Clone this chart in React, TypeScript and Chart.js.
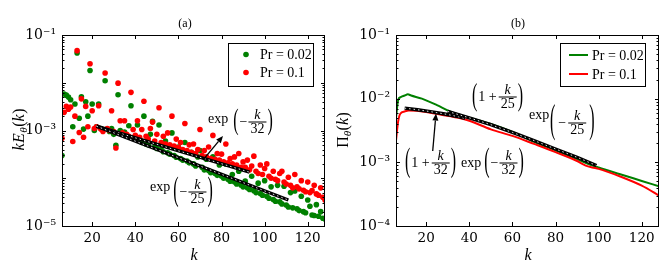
import React, { useEffect, useRef } from 'react';
import { Chart, registerables } from 'chart.js';

Chart.register(...registerables);

// ---------------- data ----------------
const K = [
  6, 7, 8, 9, 10, 11, 12, 13, 14, 15,
  16, 17, 18, 19, 20, 21, 22, 23, 24, 25,
  26, 27, 28, 29, 30, 31, 32, 33, 34, 35,
  36, 37, 38, 39, 40, 41, 42, 43, 44, 45,
  46, 47, 48, 49, 50, 51, 52, 53, 54, 55,
  56, 57, 58, 59, 60, 61, 62, 63, 64, 65,
  66, 67, 68, 69, 70, 71, 72, 73, 74, 75,
  76, 77, 78, 79, 80, 81, 82, 83, 84, 85,
  86, 87, 88, 89, 90, 91, 92, 93, 94, 95,
  96, 97, 98, 99, 100, 101, 102, 103, 104, 105,
  106, 107, 108, 109, 110, 111, 112, 113, 114, 115,
  116, 117, 118, 119, 120, 121, 122, 123, 124, 125,
  126, 127, 128,
];

// k E_theta(k), Pr = 0.02
const KE_PR002 = [
  3.0e-4, 5.8e-3, 5.5e-3, 5.0e-3, 4.4e-3, 1.2e-3, 3.6e-3, 4.2e-2, 1.8e-3, 5.1e-3,
  1.07e-3, 4.0e-3, 2.0e-3, 1.8e-2, 3.6e-3, 1.0e-3, 1.2e-3, 3.6e-3, 1.1e-3, 1.05e-3,
  1.1e-2, 1.07e-3, 9.5e-4, 1.1e-3, 8.3e-4, 4.9e-4, 5.6e-3, 1.0e-3, 8.3e-4, 9.3e-4,
  7.6e-4, 1.26e-3, 3.3e-3, 7.1e-4, 6.6e-4, 1.3e-3, 6.0e-4, 5.6e-4, 2.0e-3, 5.2e-4,
  5.0e-4, 8.3e-4, 1.55e-3, 4.5e-4, 4.2e-4, 1.3e-3, 4.0e-4, 3.6e-4, 6.0e-4, 3.4e-4,
  3.2e-4, 8.9e-4, 3.0e-4, 2.75e-4, 4.5e-4, 2.6e-4, 2.4e-4, 5.6e-4, 2.3e-4, 2.1e-4,
  3.5e-4, 2.0e-4, 1.8e-4, 2.8e-4, 3.8e-4, 1.7e-4, 1.5e-4, 2.5e-4, 1.45e-4, 1.3e-4,
  2.8e-4, 1.26e-4, 1.15e-4, 1.9e-4, 1.1e-4, 1.0e-4, 2.0e-4, 9.5e-5, 8.7e-5, 1.2e-4,
  8.3e-5, 7.6e-5, 1.4e-4, 7.2e-5, 6.6e-5, 8.7e-5, 6.3e-5, 5.8e-5, 1.1e-4, 5.5e-5,
  5.0e-5, 7.9e-5, 4.8e-5, 4.4e-5, 8.9e-5, 4.2e-5, 3.8e-5, 6.6e-5, 3.6e-5, 3.3e-5,
  7.1e-5, 3.2e-5, 2.9e-5, 6.8e-5, 2.75e-5, 2.5e-5, 5.0e-5, 2.4e-5, 5.4e-5, 2.3e-5,
  2.1e-5, 4.2e-5, 2.0e-5, 1.9e-5, 3.5e-5, 2.6e-5, 1.7e-5, 1.66e-5, 2.8e-5, 1.6e-5,
  2.0e-5, 1.45e-5, 1.4e-5,
];

// k E_theta(k), Pr = 0.1
const KE_PR01 = [
  6.9e-4, 2.4e-3, 3.2e-3, 2.8e-3, 3.1e-3, 5.9e-4, 2.0e-3, 4.7e-2, 9.1e-4, 4.6e-3,
  7.2e-4, 3.2e-3, 1.2e-3, 2.5e-2, 2.6e-3, 1.1e-3, 1.2e-3, 3.3e-3, 1.07e-3, 9.5e-4,
  1.6e-2, 1.1e-3, 1.0e-3, 2.6e-3, 9.5e-4, 4.3e-4, 9.8e-3, 1.6e-3, 8.9e-4, 1.6e-3,
  8.3e-4, 7.6e-4, 6.3e-3, 1.05e-3, 7.9e-4, 1.6e-3, 7.2e-4, 1.05e-3, 4.1e-3, 7.6e-4,
  6.6e-4, 1.1e-3, 1.5e-3, 6.0e-4, 8.3e-4, 3.0e-3, 5.6e-4, 7.6e-4, 5.2e-4, 8.9e-4,
  5.0e-4, 2.0e-3, 4.7e-4, 6.6e-4, 4.4e-4, 5.6e-4, 4.0e-4, 1.4e-3, 3.8e-4, 5.0e-4,
  3.5e-4, 5.2e-4, 3.3e-4, 4.0e-4, 1.05e-3, 3.0e-4, 3.8e-4, 2.8e-4, 4.5e-4, 2.6e-4,
  7.9e-4, 2.5e-4, 3.3e-4, 2.4e-4, 3.2e-4, 2.2e-4, 5.2e-4, 2.1e-4, 2.6e-4, 2.0e-4,
  2.8e-4, 1.9e-4, 3.3e-4, 1.7e-4, 2.2e-4, 1.7e-4, 2.4e-4, 1.5e-4, 1.8e-4, 2.9e-4,
  1.4e-4, 1.26e-4, 1.9e-4, 1.2e-4, 1.6e-4, 2.0e-4, 1.1e-4, 1.0e-4, 1.4e-4, 9.5e-5,
  8.9e-5, 1.26e-4, 1.4e-4, 8.3e-5, 7.6e-5, 1.05e-4, 7.1e-5, 6.3e-5, 1.2e-4, 6.6e-5,
  6.0e-5, 8.9e-5, 5.6e-5, 5.2e-5, 8.3e-5, 5.0e-5, 5.5e-5, 7.1e-5, 4.7e-5, 4.4e-5,
  6.3e-5, 4.0e-5, 3.5e-5,
];

// fit lines, panel (a)
const FIT32_K = [22, 93];
const FIT32_V = [1.23e-3, 1.34e-4];
const FIT25_K = [22, 111];
const FIT25_V = [1.23e-3, 3.5e-5];

// Pi_theta(k), panel (b)
const PI_K_PR002 = [6, 7, 8, 10, 11.5, 13, 18, 25, 31, 36, 40, 50, 60, 70, 80, 90, 95, 100, 110, 120, 128];
const PI_PR002 = [5.0e-3, 9.5e-3, 1.05e-2, 1.12e-2, 1.17e-2, 1.12e-2, 1.0e-2, 7.9e-3, 6.3e-3, 5.5e-3, 5.0e-3, 4.0e-3, 3.0e-3, 2.1e-3, 1.55e-3, 1.12e-3, 9.5e-4, 8.3e-4, 6.5e-4, 5.1e-4, 4.2e-4];
const PI_K_PR01 = [6, 7, 8, 10, 12, 20, 27, 35, 40, 50, 60, 70, 80, 90, 94, 97, 100, 110, 120, 128];
const PI_PR01 = [2.2e-3, 4.4e-3, 5.8e-3, 6.3e-3, 6.5e-3, 6.2e-3, 5.6e-3, 5.0e-3, 4.5e-3, 3.3e-3, 2.6e-3, 1.95e-3, 1.45e-3, 1.05e-3, 8.9e-4, 8.3e-4, 7.9e-4, 6.0e-4, 4.3e-4, 3.0e-4];

const PIFIT32_K = [10, 16, 22, 28, 34, 38];
const PIFIT32_V = [7.1e-3, 6.7e-3, 6.25e-3, 5.8e-3, 5.3e-3, 4.9e-3];
const PIFIT25_K = [30, 40, 50, 60, 70, 80, 90, 99];
const PIFIT25_V = [6.3e-3, 5.0e-3, 3.9e-3, 2.95e-3, 2.2e-3, 1.62e-3, 1.2e-3, 8.9e-4];

const X_TICKS = [20, 40, 60, 80, 100, 120];
const Y_TICKS_A = [1e-5, 1e-3, 1e-1];
const Y_LABELS_A = ['10⁻⁵', '10⁻³', '10⁻¹'];
const Y_TICKS_B = [1e-4, 1e-3, 1e-2, 1e-1];
const Y_LABELS_B = ['10⁻⁴', '10⁻³', '10⁻²', '10⁻¹'];
const SERIES_LABELS = ['Pr = 0.02', 'Pr = 0.1'];

// ---------------- style ----------------
const GREEN = '#008000';
const RED = '#ff0000';
const SERIF = '"Liberation Serif", "Times New Roman", serif';
const TICK_FAMILY = '"DejaVu Serif", serif';

const serif = (size: number, italic = false) => `${italic ? 'italic ' : ''}${size}px ${SERIF}`;
const pts = (xs: number[], ys: number[]) => xs.map((x, i) => ({ x, y: ys[i] }));

type Item =
  | { kind: 'text'; s: string; italic?: boolean; size?: number; dy?: number; gap?: number }
  | { kind: 'paren'; ch: string; h: number; gap?: number }
  | { kind: 'frac'; num: string; den: string; gap?: number };

function drawExpr(ctx: CanvasRenderingContext2D, x0: number, cy: number, items: Item[]) {
  let x = x0;
  ctx.save();
  ctx.fillStyle = '#000';
  ctx.textAlign = 'left';
  ctx.textBaseline = 'alphabetic';
  for (const it of items) {
    x += it.gap ?? 1;
    if (it.kind === 'text') {
      const size = it.size ?? 14;
      ctx.font = serif(size, it.italic);
      const w = ctx.measureText(it.s).width;
      ctx.fillText(it.s, x, cy + 0.3 * size + (it.dy ?? 0));
      x += w;
    } else if (it.kind === 'paren') {
      const s = 16;
      ctx.font = serif(s);
      const w = ctx.measureText(it.ch).width;
      ctx.save();
      ctx.translate(x, cy);
      ctx.scale(1, it.h / (0.91 * s));
      ctx.fillText(it.ch, 0, 0.24 * s);
      ctx.restore();
      x += w;
    } else {
      const s = 14;
      ctx.font = serif(s, true);
      const wn = ctx.measureText(it.num).width;
      ctx.font = serif(s);
      const wd = ctx.measureText(it.den).width;
      const w = Math.max(wn, wd) + 4;
      ctx.font = serif(s, true);
      ctx.fillText(it.num, x + (w - wn) / 2, cy - 3);
      ctx.font = serif(s);
      ctx.fillText(it.den, x + (w - wd) / 2, cy + 2 + 0.66 * s);
      ctx.fillRect(x, cy - 0.5, w, 1);
      x += w;
    }
  }
  ctx.restore();
}

type Run = { s: string; italic?: boolean; size?: number; dy?: number };
function drawRuns(ctx: CanvasRenderingContext2D, runs: Run[], cx: number, by: number) {
  let total = 0;
  const ws: number[] = [];
  for (const r of runs) {
    ctx.font = serif(r.size ?? 16, r.italic);
    const w = ctx.measureText(r.s).width;
    ws.push(w);
    total += w;
  }
  let x = cx - total / 2;
  ctx.textAlign = 'left';
  ctx.textBaseline = 'alphabetic';
  runs.forEach((r, i) => {
    ctx.font = serif(r.size ?? 16, r.italic);
    ctx.fillText(r.s, x, by + (r.dy ?? 0));
    x += ws[i] + (r.italic ? 0.5 : 0);
  });
}

function drawArrow(ctx: CanvasRenderingContext2D, x1: number, y1: number, x2: number, y2: number) {
  const ang = Math.atan2(y2 - y1, x2 - x1);
  const L = 7, W = 3;
  const bx = x2 - L * Math.cos(ang), by = y2 - L * Math.sin(ang);
  ctx.save();
  ctx.strokeStyle = '#000';
  ctx.fillStyle = '#000';
  ctx.lineWidth = 1.3;
  ctx.beginPath();
  ctx.moveTo(x1, y1);
  ctx.lineTo(bx, by);
  ctx.stroke();
  ctx.beginPath();
  ctx.moveTo(x2, y2);
  ctx.lineTo(bx + W * Math.sin(ang), by - W * Math.cos(ang));
  ctx.lineTo(bx - W * Math.sin(ang), by + W * Math.cos(ang));
  ctx.closePath();
  ctx.fill();
  ctx.restore();
}

type DecoCfg = {
  minExp: number;
  maxExp: number;
  title: string;
  titleX: number;
  yTitle: Run[];
  yTitleX: number;
  xTitleX: number;
  legendBox: [number, number, number, number];
  legendMarkerX: number;
  legendTextX: number;
  legendRows: number[];
  legendLine: boolean;
  extra: (ctx: CanvasRenderingContext2D) => void;
};

function makeDeco(cfg: DecoCfg) {
  return {
    id: 'deco',
    afterDraw(chart: any) {
      const ctx: CanvasRenderingContext2D = chart.ctx;
      const { left, right, top, bottom } = chart.chartArea;
      const xs = chart.scales.x;
      const ys = chart.scales.y;
      ctx.save();
      // frame
      ctx.strokeStyle = '#000';
      ctx.lineWidth = 1;
      ctx.strokeRect(Math.round(left) + 0.5, Math.round(top) + 0.5, Math.round(right - left) - 1, Math.round(bottom - top));
      // x ticks (inward, top and bottom)
      ctx.beginPath();
      for (const v of X_TICKS) {
        const px = Math.round(xs.getPixelForValue(v)) + 0.5;
        ctx.moveTo(px, bottom);
        ctx.lineTo(px, bottom - 4);
        ctx.moveTo(px, top);
        ctx.lineTo(px, top + 4);
      }
      // y ticks (log, inward, left and right)
      for (let e = cfg.minExp; e < cfg.maxExp; e++) {
        for (let m = 1; m <= 9; m++) {
          const v = m * Math.pow(10, e);
          const py = Math.round(ys.getPixelForValue(v)) + 0.5;
          const len = m === 1 ? 4 : 2.5;
          ctx.moveTo(left, py);
          ctx.lineTo(left + len, py);
          ctx.moveTo(right, py);
          ctx.lineTo(right - len, py);
        }
      }
      ctx.stroke();

      // legend
      const [bx, by, bw, bh] = cfg.legendBox;
      ctx.fillStyle = '#fff';
      ctx.fillRect(bx, by, bw, bh);
      ctx.strokeStyle = '#000';
      ctx.lineWidth = 1;
      ctx.strokeRect(bx + 0.5, by + 0.5, bw, bh);
      chart.data.datasets.slice(0, 2).forEach((ds: any, i: number) => {
        const y = cfg.legendRows[i];
        if (cfg.legendLine) {
          ctx.strokeStyle = ds.borderColor;
          ctx.lineWidth = 2;
          ctx.beginPath();
          ctx.moveTo(cfg.legendMarkerX - 9.5, y);
          ctx.lineTo(cfg.legendMarkerX + 9.5, y);
          ctx.stroke();
        } else {
          ctx.fillStyle = ds.backgroundColor;
          ctx.beginPath();
          ctx.arc(cfg.legendMarkerX, y, 2.8, 0, Math.PI * 2);
          ctx.fill();
        }
        ctx.fillStyle = '#000';
        ctx.font = serif(14);
        ctx.textAlign = 'left';
        ctx.textBaseline = 'alphabetic';
        ctx.fillText(ds.label, cfg.legendTextX, y + 4.6);
      });

      // panel title
      ctx.fillStyle = '#000';
      ctx.font = serif(12);
      ctx.textAlign = 'center';
      ctx.textBaseline = 'alphabetic';
      ctx.fillText(cfg.title, cfg.titleX, 26.5);

      // x title
      drawRuns(ctx, [{ s: 'k', italic: true, size: 16 }], cfg.xTitleX, 260);

      // y title (rotated)
      ctx.save();
      ctx.translate(cfg.yTitleX, (top + bottom) / 2);
      ctx.rotate(-Math.PI / 2);
      drawRuns(ctx, cfg.yTitle, 0, 5);
      ctx.restore();

      cfg.extra(ctx);
      ctx.restore();
    },
  };
}

function xAxis() {
  return {
    type: 'linear',
    min: 6,
    max: 128,
    afterBuildTicks: (s: any) => {
      s.ticks = X_TICKS.map((v) => ({ value: v }));
    },
    afterFit: (s: any) => {
      s.height = 52;
    },
    grid: { display: false, drawTicks: false },
    border: { display: false },
    ticks: {
      autoSkip: false,
      maxRotation: 0,
      padding: 4,
      color: '#000',
      font: { family: TICK_FAMILY, size: 13.5 },
    },
  };
}

function yAxis(ticks: number[], labels: string[], min: number, max: number, width: number) {
  return {
    type: 'logarithmic',
    min,
    max,
    afterBuildTicks: (s: any) => {
      s.ticks = ticks.map((v) => ({ value: v }));
    },
    afterFit: (s: any) => {
      s.width = width;
    },
    grid: { display: false, drawTicks: false },
    border: { display: false },
    ticks: {
      autoSkip: false,
      padding: 6,
      color: '#000',
      font: { family: TICK_FAMILY, size: 14 },
      callback: (_v: any, i: number) => labels[i],
    },
  };
}

function fitPair(xs: number[], ys: number[], order: number, tension = 0) {
  return [
    {
      label: '_fit',
      data: pts(xs, ys),
      showLine: true,
      borderColor: '#000',
      backgroundColor: '#000',
      borderWidth: 3.4,
      pointRadius: 0,
      tension,
      order: order + 1,
    },
    {
      label: '_fitdash',
      data: pts(xs, ys),
      showLine: true,
      borderColor: '#ffffff',
      backgroundColor: '#ffffff',
      borderWidth: 0.9,
      borderDash: [1.5, 3],
      pointRadius: 0,
      tension,
      order,
    },
  ];
}

function configA(): any {
  return {
    type: 'scatter',
    data: {
      datasets: [
        { label: SERIES_LABELS[0], data: pts(K, KE_PR002), backgroundColor: GREEN, borderColor: GREEN, borderWidth: 0, pointRadius: 2.8, order: 6 },
        { label: SERIES_LABELS[1], data: pts(K, KE_PR01), backgroundColor: RED, borderColor: RED, borderWidth: 0, pointRadius: 2.8, order: 5 },
        ...fitPair(FIT32_K, FIT32_V, 2),
        ...fitPair(FIT25_K, FIT25_V, 0),
      ],
    },
    options: {
      animation: false,
      responsive: false,
      devicePixelRatio: 1,
      events: [],
      layout: { padding: { top: 35, right: 5, left: 0, bottom: 0 } },
      plugins: { legend: { display: false }, tooltip: { enabled: false } },
      scales: { x: xAxis(), y: yAxis(Y_TICKS_A, Y_LABELS_A, 1e-5, 1e-1, 62) },
    },
    plugins: [
      makeDeco({
        minExp: -5,
        maxExp: -1,
        title: '(a)',
        titleX: 185,
        yTitle: [
          { s: 'k', italic: true },
          { s: 'E', italic: true },
          { s: 'θ', italic: true, size: 11, dy: 3 },
          { s: '(' },
          { s: 'k', italic: true },
          { s: ')' },
        ],
        yTitleX: 19,
        xTitleX: 194,
        legendBox: [228, 43, 85, 43],
        legendMarkerX: 246,
        legendTextX: 260,
        legendRows: [54.5, 72.5],
        legendLine: false,
        extra: (ctx) => {
          drawExpr(ctx, 208, 122, [
            { kind: 'text', s: 'exp', dy: -3, gap: 0 },
            { kind: 'paren', ch: '(', h: 27, gap: 5 },
            { kind: 'text', s: '−', gap: 1 },
            { kind: 'frac', num: 'k', den: '32', gap: 1 },
            { kind: 'paren', ch: ')', h: 27, gap: 1 },
          ]);
          drawArrow(ctx, 203, 160, 223, 136);
          drawExpr(ctx, 150, 192, [
            { kind: 'text', s: 'exp', dy: -5, gap: 0 },
            { kind: 'paren', ch: '(', h: 30, gap: 3 },
            { kind: 'text', s: '−', gap: 1 },
            { kind: 'frac', num: 'k', den: '25', gap: 1 },
            { kind: 'paren', ch: ')', h: 30, gap: 1 },
          ]);
        },
      }),
    ],
  };
}

function configB(): any {
  return {
    type: 'scatter',
    data: {
      datasets: [
        { label: SERIES_LABELS[0], data: pts(PI_K_PR002, PI_PR002), showLine: true, borderColor: GREEN, backgroundColor: GREEN, borderWidth: 2, pointRadius: 0, cubicInterpolationMode: 'monotone', order: 6 },
        { label: SERIES_LABELS[1], data: pts(PI_K_PR01, PI_PR01), showLine: true, borderColor: RED, backgroundColor: RED, borderWidth: 2, pointRadius: 0, cubicInterpolationMode: 'monotone', order: 5 },
        ...fitPair(PIFIT32_K, PIFIT32_V, 2),
        ...fitPair(PIFIT25_K, PIFIT25_V, 0),
      ],
    },
    options: {
      animation: false,
      responsive: false,
      devicePixelRatio: 1,
      events: [],
      layout: { padding: { top: 35, right: 8, left: 0, bottom: 0 } },
      plugins: { legend: { display: false }, tooltip: { enabled: false } },
      scales: { x: xAxis(), y: yAxis(Y_TICKS_B, Y_LABELS_B, 1e-4, 1e-1, 66) },
    },
    plugins: [
      makeDeco({
        minExp: -4,
        maxExp: -1,
        title: '(b)',
        titleX: 188,
        yTitle: [
          { s: 'Π' },
          { s: 'θ', italic: true, size: 11, dy: 3 },
          { s: '(' },
          { s: 'k', italic: true },
          { s: ')' },
        ],
        yTitleX: 13,
        xTitleX: 198,
        legendBox: [230, 43, 85, 43],
        legendMarkerX: 248.5,
        legendTextX: 262,
        legendRows: [55, 74],
        legendLine: true,
        extra: (ctx) => {
          // (1 + k/25) exp(-k/25)
          drawExpr(ctx, 142, 97, [
            { kind: 'paren', ch: '(', h: 29, gap: 0 },
            { kind: 'text', s: '1 +', gap: 1 },
            { kind: 'frac', num: 'k', den: '25', gap: 2 },
            { kind: 'paren', ch: ')', h: 29, gap: 1 },
          ]);
          drawExpr(ctx, 199, 115, [{ kind: 'text', s: 'exp', gap: 0 }]);
          drawExpr(ctx, 220, 123, [
            { kind: 'paren', ch: '(', h: 36, gap: 0 },
            { kind: 'text', s: '−', gap: 3 },
            { kind: 'frac', num: 'k', den: '25', gap: 2 },
            { kind: 'paren', ch: ')', h: 36, gap: 3 },
          ]);
          // (1 + k/32) exp(-k/32)
          drawExpr(ctx, 75, 163, [
            { kind: 'paren', ch: '(', h: 30, gap: 0 },
            { kind: 'text', s: '1 +', gap: 1 },
            { kind: 'frac', num: 'k', den: '32', gap: 2 },
            { kind: 'paren', ch: ')', h: 30, gap: 1 },
            { kind: 'text', s: 'exp', gap: 5 },
            { kind: 'paren', ch: '(', h: 30, gap: 3 },
            { kind: 'text', s: '−', gap: 1 },
            { kind: 'frac', num: 'k', den: '32', gap: 1 },
            { kind: 'paren', ch: ')', h: 30, gap: 1 },
          ]);
          drawArrow(ctx, 102.7, 151, 106, 113.5);
        },
      }),
    ],
  };
}

function ChartCanvas({ make, left, width }: { make: () => any; left: number; width: number }) {
  const ref = useRef<HTMLCanvasElement>(null);
  useEffect(() => {
    const chart = new Chart(ref.current as HTMLCanvasElement, make());
    return () => chart.destroy();
  }, [make]);
  return (
    <canvas
      ref={ref}
      width={width}
      height={278}
      style={{ position: 'absolute', left, top: 0, width, height: 278, display: 'block' }}
    />
  );
}

export default function App() {
  return (
    <div style={{ position: 'fixed', left: 0, top: 0, width: 667, height: 278, background: '#fff', overflow: 'hidden' }}>
      <ChartCanvas make={configA} left={0} width={330} />
      <ChartCanvas make={configB} left={330} width={337} />
    </div>
  );
}
